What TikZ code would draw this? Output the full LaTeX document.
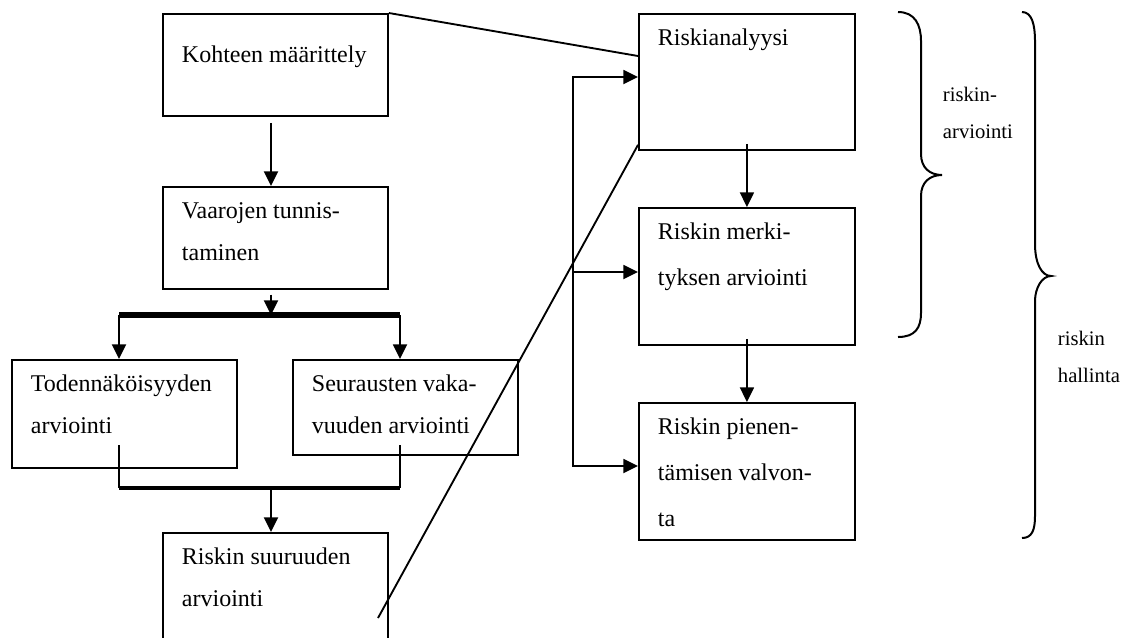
\documentclass[tikz,border=0pt]{standalone}
\usepackage{fontspec}
\setmainfont{Liberation Serif}
\usetikzlibrary{arrows.meta,calc}

\newdimen\px \px=0.75pt
\newcommand{\stagebox}[4][32]{\parbox[c][#2\px][t]{#3\px}{\raggedright\leftskip=19\px\rule{0pt}{#1\px}#4}}
\newcommand{\notetext}[1]{\parbox[t]{110\px}{\raggedright #1}}

\begin{document}
\begin{tikzpicture}[x=0.75pt,y=-0.75pt,line width=1.4pt,
                    arr/.style={-{Triangle[length=11pt,width=10.5pt]}},
                    stage/.style={draw,anchor=north west,inner sep=0pt,
                                  font=\fontsize{18}{31.5}\selectfont},
                    wide/.style={font=\fontsize{18}{34.5}\selectfont},
                    note/.style={anchor=base west,inner sep=0pt,
                                 font=\fontsize{15.5}{27.75}\selectfont},
                    brace/.style={line width=1.5pt}]
  \useasboundingbox (0,0) rectangle (1134,637);
  \clip (0,0) rectangle (1134,637);

  \node[stage] (K) at (162,13)  {\stagebox[49]{102}{225}{Kohteen määrittely}};
  \node[stage] (V) at (162,186) {\stagebox{102}{225}{Vaarojen tunnis-\\taminen}};
  \node[stage] (T) at (11,359)  {\stagebox{108}{225}{Todennäköisyyden\\arviointi}};
  \node[stage] (S) at (292,359) {\stagebox{95}{225}{Seurausten vaka-\\vuuden arviointi}};
  \node[stage] (R) at (162,532) {\stagebox{120}{225}{Riskin suuruuden\\arviointi}};

  \node[stage,wide] (A) at (638,13)  {\stagebox{136}{216}{Riskianalyysi}};
  \node[stage,wide] (M) at (638,207) {\stagebox{137}{216}{Riskin merki-\\tyksen arviointi}};
  \node[stage,wide] (P) at (638,402) {\stagebox{137}{216}{Riskin pienen-\\tämisen valvon-\\ta}};

  \node[note] (ra) at (942,101)  {\notetext{riskin-\\arviointi}};
  \node[note] (rh) at (1057,345) {\notetext{riskin\\hallinta}};

  \coordinate (bl) at (119,315);
  \coordinate (br) at (400,315);
  \coordinate (tl) at (119,445);
  \coordinate (tr) at (400,445);
  \coordinate (jl) at (119,488);
  \coordinate (jr) at (400,488);
  \coordinate (jm) at (271,488);
  \coordinate (fa) at (573,77);
  \coordinate (fb) at (573,272);
  \coordinate (fc) at (573,466);
  \coordinate (dg) at (378,618);

  \draw[arr,shorten <=4.5pt] (jm |- K.south) -- (jm |- V.north);
  \draw[arr,shorten <=3.5pt] (jm |- V.south) -- (jm |- bl);
  \draw[line width=3.8pt] (bl) -- (br);
  \draw[arr] (bl) -- (bl |- T.north);
  \draw[arr] (br) -- (br |- S.north);
  \draw (tl) -- (jl) (tr) -- (jr);
  \draw[line width=2.4pt] (jl) -- (jr);
  \draw[arr] (jm) -- (jm |- R.north);

  \draw (K.north east) -- ($(A.north west)+(0,43)$);
  \draw (dg) -- ($(A.south west)+(0,-6)$);
  \draw[arr] (fb) -- (fa) -- (fa -| A.west);
  \draw[arr] (fb) -- (fc) -- (fc -| P.west);
  \draw[arr] (fb) -- (fb -| M.west);
  \draw[arr,shorten <=-5.25pt] (A.south) -- (M.north);
  \draw[arr,shorten <=-5.25pt] (M.south) -- (P.north);

  \draw[brace] (898,12) .. controls (915,12) and (921,25) .. (921,41) -- (921,154)
    .. controls (921,168) and (930,175) .. (942,175)
    .. controls (930,175) and (921,182) .. (921,196) -- (921,313)
    .. controls (921,328) and (915,337) .. (898,337);
  \draw[brace] (1022,12) .. controls (1032,12) and (1035,25) .. (1035,41) -- (1035,244)
    .. controls (1035,264) and (1042,276) .. (1051,276)
    .. controls (1042,276) and (1035,288) .. (1035,301) -- (1035,516)
    .. controls (1035,530) and (1032,538) .. (1022,538);
\end{tikzpicture}
\end{document}
